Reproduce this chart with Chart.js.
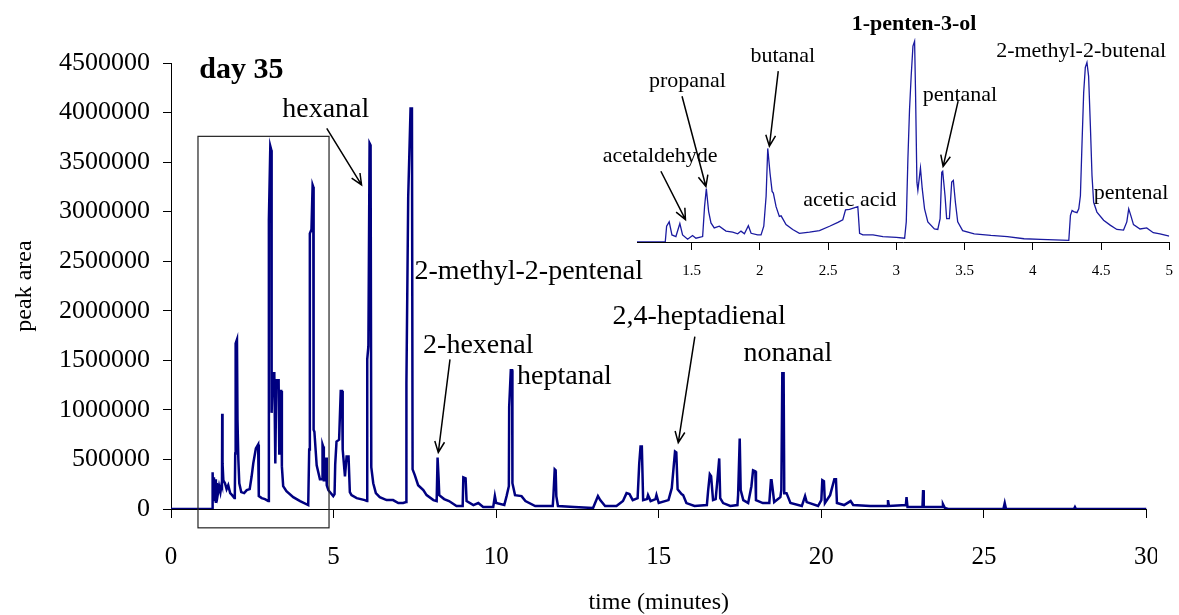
<!DOCTYPE html>
<html>
<head>
<meta charset="utf-8">
<title>day 35 chromatogram</title>
<script src="https://cdn.jsdelivr.net/npm/chart.js@4.4.1/dist/chart.umd.min.js"></script>
<style>
  html, body { margin: 0; padding: 0; background: #fff; }
  #wrap { position: relative; width: 1179px; height: 615px; overflow: hidden; }
  #mainBox { position: absolute; left: 0; top: 0; width: 1157px; height: 615px; overflow: hidden; }
  #main { position: absolute; left: 0; top: 0; }
  #inset { position: absolute; left: 560px; top: 0; }
</style>
</head>
<body>
<div id="wrap">
  <div id="mainBox"><canvas id="main" width="1183" height="615"></canvas></div>
  <canvas id="inset" width="625" height="290"></canvas>
</div>
<script>
// full run, time in minutes / peak area
const mainTime = [
  0, 1.27, 1.28, 1.30, 1.32, 1.34, 1.36, 1.38, 1.41, 1.44, 1.48, 1.52, 1.56, 1.568, 1.575, 1.585, 1.61, 1.66, 1.71,
  1.76, 1.82, 1.88, 1.95, 1.962, 1.975, 1.988, 2.029, 2.045, 2.07, 2.10, 2.16, 2.25, 2.33, 2.42, 2.48, 2.53, 2.61,
  2.68, 2.70, 2.79, 2.89, 2.99, 3.01, 3.054, 3.085, 3.095, 3.126, 3.177, 3.208, 3.238, 3.31, 3.33, 3.35, 3.39,
  3.41, 3.45, 3.55, 3.76, 3.97, 4.22, 4.25, 4.27, 4.32, 4.355, 4.376, 4.386, 4.41, 4.48, 4.58, 4.65, 4.66, 4.68,
  4.70, 4.75, 4.77, 4.79, 4.84, 4.99, 5.03, 5.05, 5.09, 5.17, 5.22, 5.26, 5.28, 5.35, 5.40, 5.46, 5.50, 5.55, 5.71,
  5.96, 6.03, 6.035, 6.07, 6.107, 6.138, 6.16, 6.22, 6.30, 6.42, 6.63, 6.83, 6.99, 7.14, 7.23, 7.24, 7.295, 7.367,
  7.41, 7.43, 7.50, 7.60, 7.76, 7.86, 8.07, 8.17, 8.198, 8.23, 8.25, 8.40, 8.55, 8.78, 8.97, 8.99, 9.06, 9.09,
  9.30, 9.45, 9.60, 9.91, 9.96, 10.00, 10.25, 10.32, 10.39, 10.40, 10.45, 10.49, 10.50, 10.58, 10.78, 10.90,
  11.20, 11.74, 11.76, 11.80, 11.83, 11.85, 11.90, 12.40, 12.98, 13.13, 13.20, 13.35, 13.70, 13.90, 14.01, 14.10,
  14.20, 14.35, 14.40, 14.44, 14.48, 14.52, 14.64, 14.67, 14.75, 14.90, 14.93, 15.00, 15.30, 15.40, 15.50, 15.54,
  15.58, 15.70, 15.75, 15.85, 16.10, 16.48, 16.52, 16.57, 16.61, 16.67, 16.75, 16.80, 16.86, 16.89, 16.98, 17.20,
  17.42, 17.44, 17.49, 17.52, 17.60, 17.75, 17.85, 17.90, 17.97, 17.99, 18.20, 18.40, 18.45, 18.47, 18.50, 18.55,
  18.74, 18.77, 18.80, 18.84, 18.86, 18.93, 19.05, 19.40, 19.50, 19.55, 19.90, 20.00, 20.03, 20.08, 20.11, 20.27,
  20.40, 20.45, 20.48, 20.70, 20.90, 20.98, 21.50, 22.04, 22.05, 22.08, 22.60, 22.62, 22.65, 23.11, 23.13, 23.15,
  23.72, 23.74, 23.80, 23.90, 25.60, 25.64, 25.68, 27.77, 27.80, 27.83, 30
];
const mainArea = [
  0, 0, 370000, 90000, 320000, 90000, 300000, 60000, 260000, 150000, 230000, 170000, 260000, 250000, 960000, 460000, 290000, 260000, 200000,
  240000, 160000, 140000, 110000, 120000, 560000, 1670000, 1710000, 900000, 510000, 260000, 170000, 160000, 190000, 200000, 330000, 460000, 610000,
  650000, 130000, 110000, 100000, 80000, 2920000, 3660000, 3620000, 970000, 1370000, 1370000, 460000, 1300000, 1300000, 560000, 1190000, 1190000,
  430000, 230000, 180000, 120000, 80000, 40000, 600000, 2780000, 2820000, 3270000, 3250000, 800000, 780000, 440000, 300000, 300000, 650000, 630000,
  290000, 290000, 520000, 240000, 190000, 130000, 150000, 450000, 680000, 700000, 1190000, 1190000, 600000, 330000, 530000, 530000, 170000, 140000, 110000,
  90000, 80000, 1510000, 1640000, 3690000, 3670000, 420000, 260000, 160000, 120000, 90000, 90000, 60000, 60000, 70000, 1270000, 3150000, 4040000,
  4040000, 400000, 340000, 240000, 190000, 140000, 90000, 80000, 520000, 310000, 140000, 100000, 80000, 30000, 30000, 320000, 310000, 80000,
  40000, 60000, 20000, 20000, 130000, 60000, 40000, 130000, 230000, 1030000, 1400000, 1400000, 260000, 140000, 130000, 80000,
  30000, 30000, 130000, 400000, 390000, 130000, 30000, 20000, 10000, 130000, 90000, 30000, 30000, 80000, 160000, 150000,
  90000, 110000, 460000, 630000, 630000, 90000, 100000, 140000, 80000, 100000, 140000, 60000, 90000, 210000, 580000, 570000,
  200000, 150000, 140000, 60000, 30000, 40000, 190000, 350000, 330000, 90000, 100000, 280000, 510000, 110000, 60000, 30000,
  40000, 140000, 710000, 190000, 90000, 60000, 230000, 390000, 380000, 90000, 60000, 60000, 290000, 290000, 210000, 70000,
  120000, 190000, 1370000, 1370000, 160000, 160000, 60000, 30000, 130000, 70000, 30000, 90000, 290000, 280000, 60000, 140000,
  300000, 300000, 60000, 40000, 80000, 40000, 30000, 30000, 90000, 30000, 40000, 120000, 20000, 20000, 190000, 20000,
  20000, 50000, 10000, 0, 0, 60000, 0, 0, 20000, 0, 0
];
const mainXTicks = [0, 5, 10, 15, 20, 25, 30];
const mainYTicks = [0, 500000, 1000000, 1500000, 2000000, 2500000, 3000000, 3500000, 4000000, 4500000];

// enlarged window 1.1 - 5 min
const insetTime = [
  1.10, 1.307, 1.317, 1.336, 1.356, 1.385, 1.414, 1.434, 1.471, 1.507, 1.532, 1.581, 1.595, 1.608, 1.625, 1.642,
  1.666, 1.703, 1.752, 1.801, 1.838, 1.862, 1.887, 1.916, 1.936, 1.984, 2.009, 2.029, 2.046, 2.058, 2.075, 2.09,
  2.099, 2.119, 2.143, 2.156, 2.192, 2.241, 2.29, 2.364, 2.437, 2.511, 2.572, 2.608, 2.628, 2.657, 2.718, 2.731,
  2.755, 2.829, 2.902, 3.0, 3.061, 3.073, 3.085, 3.097, 3.109, 3.122, 3.134, 3.141, 3.151, 3.158, 3.177, 3.19,
  3.207, 3.231, 3.279, 3.304, 3.321, 3.333, 3.340, 3.357, 3.369, 3.389, 3.406, 3.418, 3.433, 3.45, 3.486, 3.571,
  3.693, 3.814, 3.936, 4.057, 4.264, 4.276, 4.288, 4.30, 4.324, 4.337, 4.349, 4.361, 4.373, 4.385, 4.397, 4.409,
  4.422, 4.434, 4.446, 4.47, 4.519, 4.567, 4.616, 4.665, 4.689, 4.703, 4.718, 4.738, 4.786, 4.835, 4.883, 4.932, 5.0
];
const insetArea = [
  0, 0, 290000, 370000, 130000, 100000, 340000, 130000, 50000, 120000, 70000, 100000, 650000, 980000, 560000, 350000,
  260000, 290000, 200000, 180000, 150000, 200000, 150000, 300000, 160000, 130000, 130000, 290000, 840000, 1720000, 1260000, 930000,
  900000, 650000, 470000, 480000, 320000, 230000, 160000, 180000, 210000, 290000, 360000, 410000, 590000, 600000, 650000, 160000,
  130000, 130000, 100000, 85000, 70000, 370000, 1530000, 2440000, 3050000, 3600000, 3690000, 2750000, 1100000, 950000, 1360000, 980000,
  610000, 370000, 240000, 230000, 430000, 1280000, 1300000, 850000, 430000, 430000, 1100000, 1130000, 730000, 370000, 210000, 150000,
  120000, 100000, 60000, 50000, 30000, 490000, 580000, 560000, 540000, 610000, 850000, 1830000, 2750000, 3210000, 3300000, 3050000,
  2140000, 1220000, 730000, 550000, 400000, 310000, 230000, 220000, 370000, 610000, 490000, 320000, 240000, 260000, 170000, 150000, 110000
];
const insetXTicks = [1.5, 2, 2.5, 3, 3.5, 4, 4.5, 5];

// labels, arrows and frame, placed in data units
const mainNotes = [
  { text: 'day 35', x: 0.87, y: 4430000, align: 'left', font: 'bold 30px "Liberation Serif"' },
  { text: 'hexanal', x: 4.76, y: 4030000, arrow: [4.79, 3840000, 5.86, 3270000] },
  { text: '2-methyl-2-pentenal', x: 11.0, y: 2390000 },
  { text: '2-hexenal', x: 9.45, y: 1650000, arrow: [8.58, 1510000, 8.22, 570000] },
  { text: 'heptanal', x: 12.1, y: 1340000 },
  { text: '2,4-heptadienal', x: 16.24, y: 1940000, arrow: [16.11, 1740000, 15.6, 670000] },
  { text: 'nonanal', x: 18.97, y: 1570000 }
];
const mainFrame = [0.83, 4.86, -190000, 3760000];

const insetNotes = [
  { text: '1-penten-3-ol', x: 3.13, y: 4000000, font: 'bold 22px "Liberation Serif"' },
  { text: '2-methyl-2-butenal', x: 4.354, y: 3510000 },
  { text: 'butanal', x: 2.168, y: 3410000, arrow: [2.135, 3140000, 2.07, 1760000] },
  { text: 'propanal', x: 1.47, y: 2950000, arrow: [1.43, 2680000, 1.605, 1020000] },
  { text: 'acetaldehyde', x: 1.27, y: 1570000, arrow: [1.275, 1300000, 1.455, 410000] },
  { text: 'acetic acid', x: 2.66, y: 760000 },
  { text: 'pentanal', x: 3.466, y: 2690000, arrow: [3.453, 2590000, 3.343, 1390000] },
  { text: 'pentenal', x: 4.72, y: 900000 }
];

const SERIF = '"Liberation Serif", "Times New Roman", serif';

function drawArrow(ctx, x1, y1, x2, y2) {
  const a = Math.atan2(y2 - y1, x2 - x1);
  const head = 12, spread = 0.42;
  ctx.beginPath();
  ctx.moveTo(x1, y1);
  ctx.lineTo(x2, y2);
  ctx.moveTo(x2 - head * Math.cos(a - spread), y2 - head * Math.sin(a - spread));
  ctx.lineTo(x2, y2);
  ctx.lineTo(x2 - head * Math.cos(a + spread), y2 - head * Math.sin(a + spread));
  ctx.stroke();
}

function notesPlugin(notes, font, frame) {
  return {
    id: 'notes',
    afterDraw(chart) {
      const { ctx } = chart;
      const xs = chart.scales.x, ys = chart.scales.y;
      ctx.save();
      ctx.strokeStyle = '#000';
      ctx.fillStyle = '#000';
      ctx.lineWidth = 1.5;
      if (frame) {
        const l = xs.getPixelForValue(frame[0]), r = xs.getPixelForValue(frame[1]);
        const b = ys.getPixelForValue(frame[2]), t = ys.getPixelForValue(frame[3]);
        ctx.lineWidth = 1.2;
        ctx.strokeStyle = '#222';
        ctx.strokeRect(l, t, r - l, b - t);
        ctx.strokeStyle = '#000';
        ctx.lineWidth = 1.5;
      }
      notes.forEach(n => {
        ctx.font = n.font || font;
        ctx.textAlign = n.align || 'center';
        ctx.textBaseline = 'middle';
        ctx.fillText(n.text, xs.getPixelForValue(n.x), ys.getPixelForValue(n.y));
        if (n.arrow) {
          drawArrow(ctx,
            xs.getPixelForValue(n.arrow[0]), ys.getPixelForValue(n.arrow[1]),
            xs.getPixelForValue(n.arrow[2]), ys.getPixelForValue(n.arrow[3]));
        }
      });
      ctx.restore();
    }
  };
}

const mainChart = new Chart(document.getElementById('main'), {
  type: 'line',
  data: {
    datasets: [{
      data: mainTime.map((t, i) => ({ x: t, y: mainArea[i] })),
      borderColor: '#000080',
      borderWidth: 2.5,
      pointRadius: 0,
      tension: 0
    }]
  },
  options: {
    responsive: false,
    animation: false,
    devicePixelRatio: 1,
    layout: { padding: { left: 0, right: 32, top: 63, bottom: 0 } },
    plugins: { legend: { display: false }, tooltip: { enabled: false } },
    scales: {
      x: {
        type: 'linear', min: 0, max: 30,
        afterBuildTicks: s => { s.ticks = mainXTicks.map(v => ({ value: v })); },
        afterFit: s => { s.height = 106; },
        grid: { drawOnChartArea: false, drawTicks: true, tickLength: 9, color: '#000', lineWidth: 1 },
        border: { display: true, color: '#000', width: 1 },
        ticks: { color: '#000', padding: 24, maxRotation: 0, font: { family: SERIF, size: 25 } },
        title: { display: true, text: 'time (minutes)', color: '#000', padding: 0, font: { family: SERIF, size: 24, lineHeight: 1 } }
      },
      y: {
        min: 0, max: 4500000,
        afterBuildTicks: s => { s.ticks = mainYTicks.map(v => ({ value: v })); },
        afterFit: s => { s.width = 171; },
        grid: { drawOnChartArea: false, drawTicks: true, tickLength: 8, color: '#000', lineWidth: 1 },
        border: { display: true, color: '#000', width: 1 },
        ticks: { color: '#000', padding: 13, callback: v => String(v), font: { family: SERIF, size: 26 } },
        title: { display: true, text: 'peak area', color: '#000', padding: { top: 13, bottom: 0 }, font: { family: SERIF, size: 24, lineHeight: 1 } }
      }
    }
  },
  plugins: [notesPlugin(mainNotes, '28px ' + SERIF, mainFrame)]
});

const insetChart = new Chart(document.getElementById('inset'), {
  type: 'line',
  data: {
    datasets: [{
      data: insetTime.map((t, i) => ({ x: t, y: insetArea[i] })),
      borderColor: '#1a1aa0',
      borderWidth: 1.3,
      pointRadius: 0,
      tension: 0
    }]
  },
  options: {
    responsive: false,
    animation: false,
    devicePixelRatio: 1,
    layout: { padding: { left: 77, right: 4, top: 38, bottom: 0 } },
    plugins: { legend: { display: false }, tooltip: { enabled: false } },
    scales: {
      x: {
        type: 'linear', min: 1.1, max: 5,
        afterBuildTicks: s => { s.ticks = insetXTicks.map(v => ({ value: v })); },
        afterFit: s => { s.height = 48; },
        grid: { drawOnChartArea: false, drawTicks: true, tickLength: 8, color: '#000', lineWidth: 1 },
        border: { display: true, color: '#000', width: 1 },
        ticks: { color: '#000', padding: 12, maxRotation: 0, callback: v => String(v), font: { family: SERIF, size: 15 } }
      },
      y: { display: false, min: 0, max: 3750000 }
    }
  },
  plugins: [notesPlugin(insetNotes, '22px ' + SERIF, null)]
});
</script>
</body>
</html>
